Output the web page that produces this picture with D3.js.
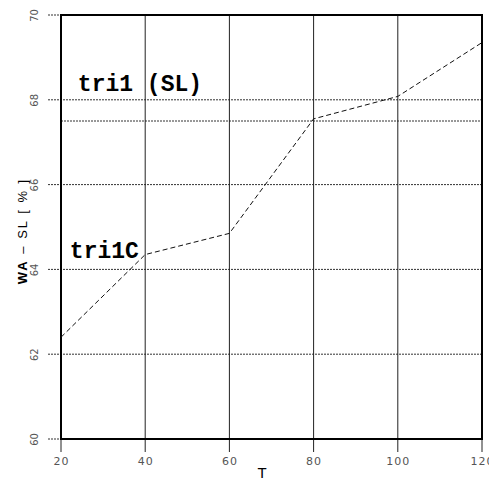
<!DOCTYPE html>
<html>
<head>
<meta charset="UTF-8">
<script src="https://d3js.org/d3.v7.min.js"></script>
<style>
    body { margin: 0; background: white; }
    svg { display: block; }
    .tick text { font-family: "DejaVu Sans", sans-serif; fill: #555; }
</style>
</head>
<body>
<svg id="chart" width="489" height="482"></svg>
<script>
    // data
    const tValues = [20, 40, 60, 80, 100, 120]
    const waValues = [62.4, 64.35, 64.85, 67.55, 68.08, 69.35]
    const xTicks = [20, 40, 60, 80, 100, 120]
    const yTicks = [60, 62, 64, 66, 68, 70]
    const refLines = [67.5]
    const labelTexts = ['tri1 (SL)', 'tri1C']
    const labelT = [24, 22.1]
    const labelY = [68.2, 64.26]

    const svg = d3.select('#chart')
    const margin = { top: 15, right: 7, bottom: 43, left: 61 }
    const width = 489, height = 482

    const x = d3.scaleLinear().domain([20, 120]).range([margin.left, width - margin.right])
    const y = d3.scaleLinear().domain([60, 70]).range([height - margin.bottom, margin.top])

    // horizontal dotted grid, extends left as ticks
    svg.append('g').selectAll('line')
        .data(yTicks.concat(refLines))
        .join('line')
        .attr('x1', d => refLines.includes(d) ? x(20) : x(20) - 13)
        .attr('x2', x(120))
        .attr('y1', d => y(d)).attr('y2', d => y(d))
        .attr('stroke', '#333')
        .attr('stroke-width', 1)
        .attr('stroke-dasharray', '2,1')

    // vertical grid, extends below as ticks
    svg.append('g').selectAll('line')
        .data(xTicks)
        .join('line')
        .attr('x1', d => x(d)).attr('x2', d => x(d))
        .attr('y1', y(70))
        .attr('y2', y(60) + 13)
        .attr('stroke', '#222')
        .attr('stroke-width', 1)

    // axes (labels only)
    const xAxis = svg.append('g')
        .attr('transform', `translate(0,${y(60)})`)
        .call(d3.axisBottom(x).tickValues(xTicks).tickSize(0).tickPadding(18))
    xAxis.select('.domain').remove()
    xAxis.selectAll('text').attr('font-size', 11).attr('letter-spacing', 1)

    const yAxis = svg.append('g')
        .attr('transform', `translate(${x(20)},0)`)
        .call(d3.axisLeft(y).tickValues(yTicks).tickSize(0))
    yAxis.select('.domain').remove()
    yAxis.selectAll('text')
        .attr('font-size', 10)
        .attr('text-anchor', 'middle')
        .attr('x', 0).attr('dy', 0)
        .attr('transform', 'translate(-27,0) rotate(-90)')
        .attr('y', 4)

    // frame
    svg.append('rect')
        .attr('x', x(20)).attr('y', y(70))
        .attr('width', x(120) - x(20))
        .attr('height', y(60) - y(70))
        .attr('fill', 'none')
        .attr('stroke', 'black')
        .attr('stroke-width', 2)

    // the curve
    const line = d3.line().x((d, i) => x(tValues[i])).y(d => y(d))
    svg.append('path')
        .datum(waValues)
        .attr('d', line)
        .attr('fill', 'none')
        .attr('stroke', '#111')
        .attr('stroke-width', 1)
        .attr('stroke-dasharray', '5,3')

    // labels
    svg.append('g').selectAll('text')
        .data(labelTexts)
        .join('text')
        .attr('x', (d, i) => x(labelT[i]))
        .attr('y', (d, i) => y(labelY[i]))
        .attr('font-family', '"Liberation Mono", monospace')
        .attr('font-weight', 'bold')
        .attr('font-size', 23)
        .text(d => d)

    // axis titles
    svg.append('text')
        .attr('x', 262).attr('y', 478)
        .attr('text-anchor', 'middle')
        .attr('font-family', '"Liberation Sans", sans-serif')
        .attr('font-size', 15)
        .text('T')

    const yt = svg.append('text')
        .attr('transform', 'translate(27,231) rotate(-90)')
        .attr('text-anchor', 'middle')
        .attr('font-family', '"Liberation Sans", sans-serif')
        .attr('font-size', 13)
        .attr('letter-spacing', 2)
    yt.append('tspan').attr('font-weight', 'bold').text('WA')
    yt.append('tspan').text(' – SL  [ % ]')
</script>
</body>
</html>
